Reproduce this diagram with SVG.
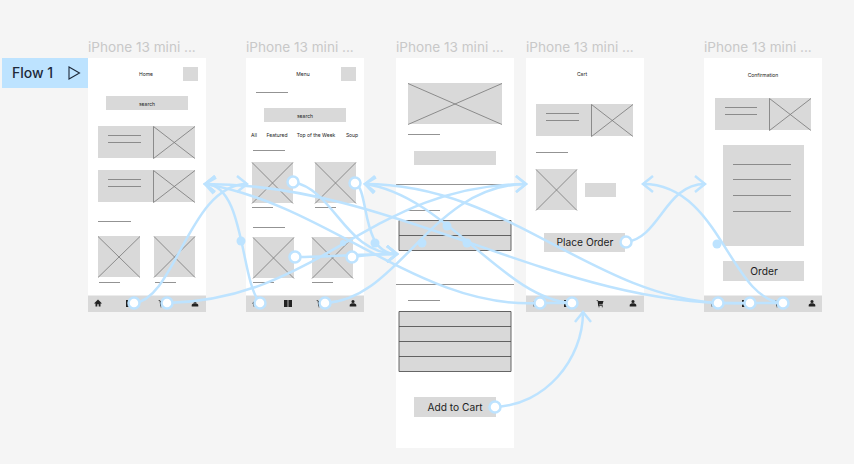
<svg xmlns="http://www.w3.org/2000/svg" width="854" height="464" viewBox="0 0 854 464">
<style>
text{font-family:Inter,"Liberation Sans",sans-serif;fill:#000}
.t{font-size:13.6px;fill:#c8c8c8}
.s{font-size:5px;text-anchor:middle;fill:#222}
.b{font-size:10.2px;text-anchor:middle;fill:#1e1e1e}
.f{fill:#fff}
.g{fill:#d9d9d9}
.l{stroke:#777;stroke-width:.8;fill:none;transform:translate(0,.5px)}
.k{stroke:#555;stroke-width:.9;fill:none;transform:translate(0,.5px)}
.c{stroke:#bde3ff;stroke-width:2.5;fill:none;marker-end:url(#a)}
.n{stroke:#bde3ff;stroke-width:2.5;fill:none}
.d{fill:#fff;stroke:#bde3ff;stroke-width:2.5}
.h{fill:#bde3ff}
.i{fill:#222}
</style>
<defs>
<marker id="a" markerUnits="userSpaceOnUse" markerWidth="26" markerHeight="26" refX="13" refY="13" orient="auto">
<path d="M3 5L13 13L3 21" fill="none" stroke="#bde3ff" stroke-width="2.500"/>
</marker>
<path id="person" class="i" d="M-1.600-2a1.600 1.600 0 1 1 3.200 0a1.600 1.600 0 1 1-3.200 0M-3.300 3V1.600C-3.300.3-1.300-.2 0-.2S3.300.3 3.300 1.600V3Z"/>
<path id="home" class="i" d="M-4 0L0-4L4 0H2.500V3H.7V.8H-.7V3H-2.500V0Z"/>
<path id="book" class="i" d="M-4-3.500H-.4V3.500H-4ZM.4-3.500H4V3.500H.4Z"/>
<path id="cart" class="i" d="M-3.500-3.500H-2L-1.700-2.500H3.500L2.500 1H-1L-.8 1.700H2.800V2.400H-1.800L-2.400-3H-3.500ZM-1.500 2.700h1v1h-1ZM1.800 2.700h1v1h-1Z"/>
</defs>
<rect width="854" height="464" fill="#f5f5f5"/>
<g id="flow-label">
<rect x="2" y="58" width="86" height="30" fill="#bde3ff"/>
<text x="12" y="78" font-size="14" font-weight="500" style="fill:#1e2a3a">Flow 1</text>
<path d="M69 67V79L79.500 73Z" fill="none" stroke="#1e2a3a" stroke-width="1.100"/>
</g>
<g id="screen-home">
<text class="t" x="88" y="52">iPhone 13 mini ...</text>
<rect class="f" x="88" y="58" width="118" height="254"/>
<text class="s" x="146" y="76">Home</text>
<rect class="g" x="183" y="67" width="15" height="14"/>
<rect class="g" x="106" y="96" width="82" height="14"/>
<text class="s" x="147" y="106">search</text>
<rect class="g" x="98" y="126" width="97" height="32"/>
<path class="l" d="M153.500 126V158M153.500 126L195 158M195 126L153.500 158M108 135H141M108 142H141"/>
<rect class="g" x="98" y="170" width="97" height="32"/>
<path class="l" d="M153.500 170V202M153.500 170L195 202M195 170L153.500 202M108 179H141M108 186H141M98 221H131"/>
<rect class="g" x="98" y="236" width="42" height="41"/>
<path class="l" d="M98 236L140 277M140 236L98 277M99 282H120"/>
<rect class="g" x="154" y="236" width="41" height="41"/>
<path class="l" d="M154 236L195 277M195 236L154 277M155 282H176"/>
<rect class="g" x="88" y="295.500" width="118" height="16.500"/>
<use href="#home" x="98" y="303.500"/>
<use href="#book" x="130" y="303.500"/>
<use href="#cart" x="162" y="303.500"/>
<use href="#person" x="195" y="303.500"/>
</g>
<g id="screen-menu">
<text class="t" x="246" y="52">iPhone 13 mini ...</text>
<rect class="f" x="246" y="58" width="118" height="254"/>
<text class="s" x="303" y="76">Menu</text>
<rect class="g" x="341" y="67" width="15" height="14"/>
<path class="l" d="M256 92H288"/>
<rect class="g" x="264" y="108" width="82" height="14"/>
<text class="s" x="305" y="118">search</text>
<text class="s" x="254" y="137">All</text>
<text class="s" x="277" y="137">Featured</text>
<text class="s" x="316" y="137">Top of the Week</text>
<text class="s" x="352" y="137">Soup</text>
<path class="l" d="M253 150H285"/>
<rect class="g" x="252" y="162" width="41" height="41"/>
<path class="l" d="M252 162L293 203M293 162L252 203M252 207H273"/>
<rect class="g" x="315" y="162" width="41" height="41"/>
<path class="l" d="M315 162L356 203M356 162L315 203M315 207H336M253 227H285"/>
<rect class="g" x="253" y="237" width="41" height="41"/>
<path class="l" d="M253 237L294 278M294 237L253 278M253 282H274"/>
<rect class="g" x="312" y="237" width="41" height="41"/>
<path class="l" d="M312 237L353 278M353 237L312 278M312 282H333"/>
<rect class="g" x="246" y="295.500" width="118" height="16.500"/>
<use href="#home" x="256" y="303.500"/>
<use href="#book" x="288" y="303.500"/>
<use href="#cart" x="320" y="303.500"/>
<use href="#person" x="353" y="303.500"/>
</g>
<g id="screen-item">
<text class="t" x="396" y="52">iPhone 13 mini ...</text>
<rect class="f" x="396" y="58" width="118" height="390"/>
<rect class="g" x="408" y="83" width="94" height="41"/>
<path class="l" d="M408 83L502 124M502 83L408 124M408 134H440"/>
<rect class="g" x="414" y="151" width="82" height="14"/>
<path class="l" d="M396 184H514M408 210H440"/>
<rect class="g" x="399" y="220" width="112" height="30"/>
<path class="k" d="M399 220H511V250H399ZM399 235H511"/>
<path class="l" d="M396 284H514M408 300H440"/>
<rect class="g" x="399" y="311" width="112" height="60"/>
<path class="k" d="M399 311H511V371H399ZM399 326H511M399 341H511M399 356H511"/>
<rect class="g" x="414" y="397" width="82" height="20"/>
<text class="b" x="455" y="411">Add to Cart</text>
</g>
<g id="screen-cart">
<text class="t" x="526" y="52">iPhone 13 mini ...</text>
<rect class="f" x="526" y="58" width="118" height="254"/>
<text class="s" x="582" y="76">Cart</text>
<rect class="g" x="536" y="104" width="97" height="32"/>
<path class="l" d="M591.500 104V136M591.500 104L633 136M633 104L591.500 136M546 113H579M546 120H579M536 152H568"/>
<rect class="g" x="536" y="169" width="41" height="41"/>
<path class="l" d="M536 169L577 210M577 169L536 210"/>
<rect class="g" x="585" y="183" width="31" height="14"/>
<rect class="g" x="544" y="233" width="81" height="19"/>
<text class="b" x="585" y="246">Place Order</text>
<rect class="g" x="526" y="295.500" width="118" height="16.500"/>
<use href="#home" x="536" y="303.500"/>
<use href="#book" x="568" y="303.500"/>
<use href="#cart" x="600" y="303.500"/>
<use href="#person" x="633" y="303.500"/>
</g>
<g id="screen-confirmation">
<text class="t" x="704" y="52">iPhone 13 mini ...</text>
<rect class="f" x="704" y="58" width="118" height="254"/>
<text class="s" x="763" y="77">Confirmation</text>
<rect class="g" x="715" y="98" width="96" height="32"/>
<path class="l" d="M769.500 98V130M769.500 98L811 130M811 98L769.500 130M725 107H757M725 114H757"/>
<rect class="g" x="723" y="145" width="81" height="101"/>
<path class="l" d="M733 164H791M733 179H791M733 195H791M733 211H791"/>
<rect class="g" x="723" y="261" width="81" height="20"/>
<text class="b" x="764" y="275">Order</text>
<rect class="g" x="704" y="295.500" width="118" height="16.500"/>
<use href="#home" x="714" y="303.500"/>
<use href="#book" x="746" y="303.500"/>
<use href="#cart" x="778" y="303.500"/>
<use href="#person" x="812" y="303.500"/>
</g>
<g id="connectors">
<path class="c" d="M134 303C175 300 190 184 247 184"/>
<path class="c" d="M167 303C320 300 370 185 526 184"/>
<path class="c" d="M260 303C240 280 245 184 205 184"/>
<path class="c" d="M325 303C400 300 430 185 526 184"/>
<path class="c" d="M293 182C335 190 345 254 397 254"/>
<path class="c" d="M355 183C370 190 360 254 397 254"/>
<path class="c" d="M295 257C330 257 360 254 397 254"/>
<path class="c" d="M352 257C370 254 380 254 397 254"/>
<path class="c" d="M540 303C420 310 330 205 205 184"/>
<path class="c" d="M572 303C505 300 445 195 365 184"/>
<path class="c" d="M718 303C590 295 505 184 365 184"/>
<path class="c" d="M750 303C560 310 400 184 205 184"/>
<path class="c" d="M783 303C730 300 720 184 643 184"/>
<path class="c" d="M626 242C660 238 665 184 705 184"/>
<path class="c" d="M495 407C545 405 583 360 583 312"/>
<path class="n" d="M540 303H572M718 303H783"/>
<circle class="h" cx="241" cy="241" r="4.500"/>
<circle class="h" cx="717" cy="244" r="4.500"/>
<circle class="h" cx="343" cy="243" r="3"/>
<circle class="h" cx="375" cy="243" r="4.500"/>
<circle class="h" cx="422" cy="243" r="4.500"/>
<circle class="h" cx="447" cy="226" r="4.500"/>
<circle class="h" cx="467" cy="243" r="4.500"/>
<circle class="d" cx="134" cy="303" r="5.500"/>
<circle class="d" cx="167" cy="303" r="5.500"/>
<circle class="d" cx="293" cy="182" r="5.500"/>
<circle class="d" cx="355" cy="183" r="5.500"/>
<circle class="d" cx="295" cy="257" r="5.500"/>
<circle class="d" cx="352" cy="257" r="5.500"/>
<circle class="d" cx="260" cy="303" r="5.500"/>
<circle class="d" cx="325" cy="303" r="5.500"/>
<circle class="d" cx="495" cy="407" r="5.500"/>
<circle class="d" cx="626" cy="242" r="5.500"/>
<circle class="d" cx="540" cy="303" r="5.500"/>
<circle class="d" cx="572" cy="303" r="5.500"/>
<circle class="d" cx="718" cy="303" r="5.500"/>
<circle class="d" cx="750" cy="303" r="5.500"/>
<circle class="d" cx="783" cy="303" r="5.500"/>
</g>
</svg>
